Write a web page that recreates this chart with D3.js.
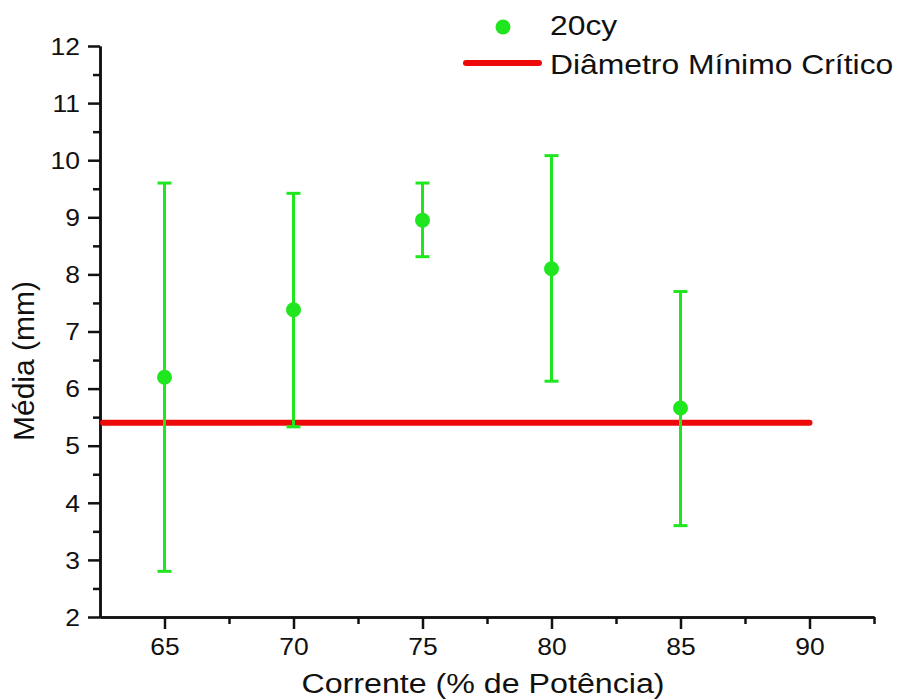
<!DOCTYPE html>
<html>
<head>
<meta charset="utf-8">
<script src="https://cdn.jsdelivr.net/npm/d3@7"></script>
<style>
  html, body { margin: 0; padding: 0; background: #fff; }
  svg { display: block; font-family: "Liberation Sans", Arial, sans-serif; }
  .sx { transform-box: fill-box; }
</style>
</head>
<body>
<svg id="chart" width="900" height="700"></svg>
<script>
// ---- data ----
const corrente = [65, 70, 75, 80, 85];
const media    = [6.2, 7.38, 8.95, 8.1, 5.66];
const upper    = [9.6, 9.42, 9.6, 10.08, 7.7];
const lower    = [2.8, 5.33, 8.31, 6.13, 3.6];
const criticoValue = 5.4;
const criticoRange = [62.5, 90];
const xTicks = [65, 70, 75, 80, 85, 90];
const xMinor = [67.5, 72.5, 77.5, 82.5, 87.5, 92.5];
const yTicks = [2, 3, 4, 5, 6, 7, 8, 9, 10, 11, 12];
const yMinor = [2.5, 3.5, 4.5, 5.5, 6.5, 7.5, 8.5, 9.5, 10.5, 11.5];
const seriesName = "20cy";
const lineName = "Diâmetro Mínimo Crítico";
const xTitle = "Corrente (% de Potência)";
const yTitle = "Média (mm)";

const green = "#1fe61f";
const red = "#ee0a0a";
const ink = "#111";

const svg = d3.select("#chart");
const x = d3.scaleLinear().domain([62.5, 92.5]).range([100, 874]);
const y = d3.scaleLinear().domain([2, 12]).range([617, 46]);

function styleAxis(g) {
  g.select(".domain").attr("stroke", ink).attr("stroke-width", 2.5);
  g.selectAll(".tick line").attr("stroke", ink).attr("stroke-width", 2.5);
}

// minor ticks
svg.append("g").attr("transform", "translate(0,617)")
  .call(d3.axisBottom(x).tickValues(xMinor).tickSize(7).tickSizeOuter(0).tickFormat(""))
  .call(styleAxis);
svg.append("g").attr("transform", "translate(100,0)")
  .call(d3.axisLeft(y).tickValues(yMinor).tickSize(7).tickSizeOuter(0).tickFormat(""))
  .call(styleAxis);

// major axes
const gx = svg.append("g").attr("transform", "translate(0,617)")
  .call(d3.axisBottom(x).tickValues(xTicks).tickSize(12).tickSizeOuter(0).tickFormat(d3.format("d")))
  .call(styleAxis);
gx.selectAll(".tick text")
  .attr("y", 38.5).attr("dy", 0)
  .attr("fill", ink)
  .style("font-size", "23px")
  .style("font-family", "'Liberation Sans', Arial, sans-serif")
  .attr("class", "sx")
  .style("transform-origin", "center")
  .style("transform", "scaleX(1.15)");

const gy = svg.append("g").attr("transform", "translate(100,0)")
  .call(d3.axisLeft(y).tickValues(yTicks).tickSize(12).tickSizeOuter(0).tickFormat(d3.format("d")))
  .call(styleAxis);
gy.selectAll(".tick text")
  .attr("x", -20).attr("dy", "0.36em")
  .attr("fill", ink)
  .style("font-size", "23px")
  .style("font-family", "'Liberation Sans', Arial, sans-serif")
  .attr("class", "sx")
  .style("transform-origin", "right center")
  .style("transform", "scaleX(1.15)");

// critical line
svg.append("line")
  .attr("x1", x(criticoRange[0]) + 3).attr("x2", x(criticoRange[1]))
  .attr("y1", y(criticoValue)).attr("y2", y(criticoValue))
  .attr("stroke", red).attr("stroke-width", 6).attr("stroke-linecap", "round");

// error bars
const pts = corrente.map((c, i) => ({c, m: media[i], hi: upper[i], lo: lower[i]}));
const eb = svg.append("g").attr("stroke", green).attr("stroke-width", 3).attr("fill", "none");
eb.selectAll("line.v").data(pts).join("line").attr("class", "v")
  .attr("x1", d => x(d.c)).attr("x2", d => x(d.c))
  .attr("y1", d => y(d.hi)).attr("y2", d => y(d.lo));
eb.selectAll("line.t").data(pts).join("line").attr("class", "t")
  .attr("x1", d => x(d.c) - 7).attr("x2", d => x(d.c) + 7)
  .attr("y1", d => y(d.hi)).attr("y2", d => y(d.hi));
eb.selectAll("line.b").data(pts).join("line").attr("class", "b")
  .attr("x1", d => x(d.c) - 7).attr("x2", d => x(d.c) + 7)
  .attr("y1", d => y(d.lo)).attr("y2", d => y(d.lo));

svg.append("g").selectAll("circle").data(pts).join("circle")
  .attr("cx", d => x(d.c)).attr("cy", d => y(d.m)).attr("r", 7.5)
  .attr("fill", green);

// axis titles
svg.append("text")
  .attr("x", 483).attr("y", 693)
  .attr("text-anchor", "middle")
  .attr("fill", ink)
  .style("font-size", "28px")
  .attr("class", "sx")
  .style("transform-origin", "center")
  .style("transform", "scaleX(1.15)")
  .text(xTitle);

svg.append("text")
  .attr("transform", "translate(34,361) rotate(-90)")
  .attr("text-anchor", "middle")
  .attr("fill", ink)
  .style("font-size", "30px")
  .text(yTitle);

// legend
svg.append("circle").attr("cx", 503).attr("cy", 27).attr("r", 7.5).attr("fill", green);
svg.append("text")
  .attr("x", 550).attr("y", 35)
  .attr("fill", ink)
  .style("font-size", "27px")
  .attr("class", "sx")
  .style("transform-origin", "left center")
  .style("transform", "scaleX(1.18)")
  .text(seriesName);
svg.append("line")
  .attr("x1", 466).attr("x2", 539).attr("y1", 63).attr("y2", 63)
  .attr("stroke", red).attr("stroke-width", 6).attr("stroke-linecap", "round");
svg.append("text")
  .attr("x", 550).attr("y", 74)
  .attr("fill", ink)
  .style("font-size", "27px")
  .attr("class", "sx")
  .style("transform-origin", "left center")
  .style("transform", "scaleX(1.18)")
  .text(lineName);
</script>
</body>
</html>
